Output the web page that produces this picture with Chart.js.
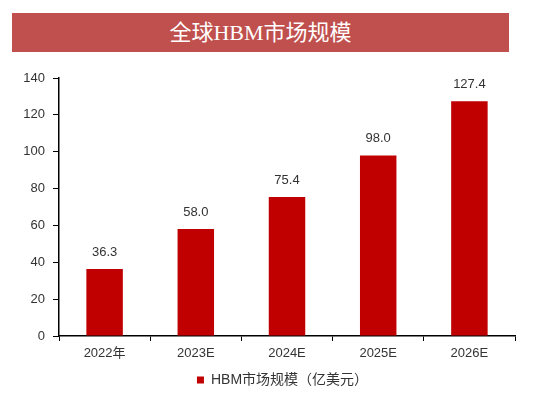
<!DOCTYPE html>
<html>
<head>
<meta charset="utf-8">
<script src="https://cdn.jsdelivr.net/npm/chart.js@4"></script>
<style>
  html, body { margin: 0; padding: 0; background: #fff; }
  #wrap { position: relative; width: 545px; height: 397px; }
  #banner {
    position: absolute; left: 12px; top: 13px; width: 497px; height: 39px;
    background: #C0504D; color: #fff; text-align: center;
    font-family: "Liberation Serif", "Noto Sans CJK SC", serif;
    font-size: 22px; font-weight: normal; line-height: 39px;
  }
  canvas { position: absolute; left: 0; top: 0; }
</style>
</head>
<body>
<div id="wrap">
  <canvas id="chart" width="545" height="397"></canvas>
  <div id="banner">全球HBM市场规模</div>
</div>
<script>
const categories = ["2022年", "2023E", "2024E", "2025E", "2026E"];
const marketSize = [36.3, 58.0, 75.4, 98.0, 127.4];
const seriesName = "HBM市场规模（亿美元）";
const yTicks = [0, 20, 40, 60, 80, 100, 120, 140];

const FONT = "'Liberation Sans', 'Noto Sans CJK SC', sans-serif";

const barLabels = {
  id: "barLabels",
  afterDatasetsDraw(chart) {
    const ctx = chart.ctx;
    const meta = chart.getDatasetMeta(0);
    ctx.save();
    ctx.font = "13px " + FONT;
    ctx.fillStyle = "#333";
    ctx.textAlign = "center";
    ctx.textBaseline = "middle";
    meta.data.forEach((bar, i) => {
      ctx.fillText(marketSize[i].toFixed(1), bar.x, bar.y - 17);
    });
    ctx.restore();
  }
};

// the original legend sits a bit right of the canvas centre
const legendShift = {
  id: "legendShift",
  afterLayout(chart) {
    if (chart.legend) chart.legend.left = 50;
  }
};

new Chart(document.getElementById("chart"), {
  type: "bar",
  data: {
    labels: categories,
    datasets: [{
      label: seriesName,
      data: marketSize,
      backgroundColor: "#C00000",
      barPercentage: 0.4,
      categoryPercentage: 1
    }]
  },
  options: {
    responsive: false,
    animation: false,
    layout: { padding: { top: 78, right: 30, left: 0, bottom: 0 } },
    plugins: {
      tooltip: { enabled: false },
      legend: {
        position: "bottom",
        labels: {
          color: "#333",
          font: { size: 14, family: FONT },
          boxWidth: 7,
          boxHeight: 7,
          padding: 6
        }
      }
    },
    scales: {
      x: {
        afterFit: (s) => { s.height = 31; },
        grid: { display: true, drawOnChartArea: false, offset: true, color: "#000", tickLength: 5 },
        border: { color: "#000", width: 1.5 },
        ticks: { color: "#333", font: { size: 13, family: FONT }, padding: 5 }
      },
      y: {
        min: 0,
        max: 140,
        afterFit: (s) => { s.width = 59; },
        afterBuildTicks: (s) => { s.ticks = yTicks.map(v => ({ value: v })); },
        grid: { display: true, drawOnChartArea: false, color: "#000", tickLength: 6 },
        border: { color: "#000", width: 1.5 },
        ticks: { color: "#333", font: { size: 13, family: FONT }, padding: 8 }
      }
    }
  },
  plugins: [barLabels, legendShift]
});
</script>
</body>
</html>
